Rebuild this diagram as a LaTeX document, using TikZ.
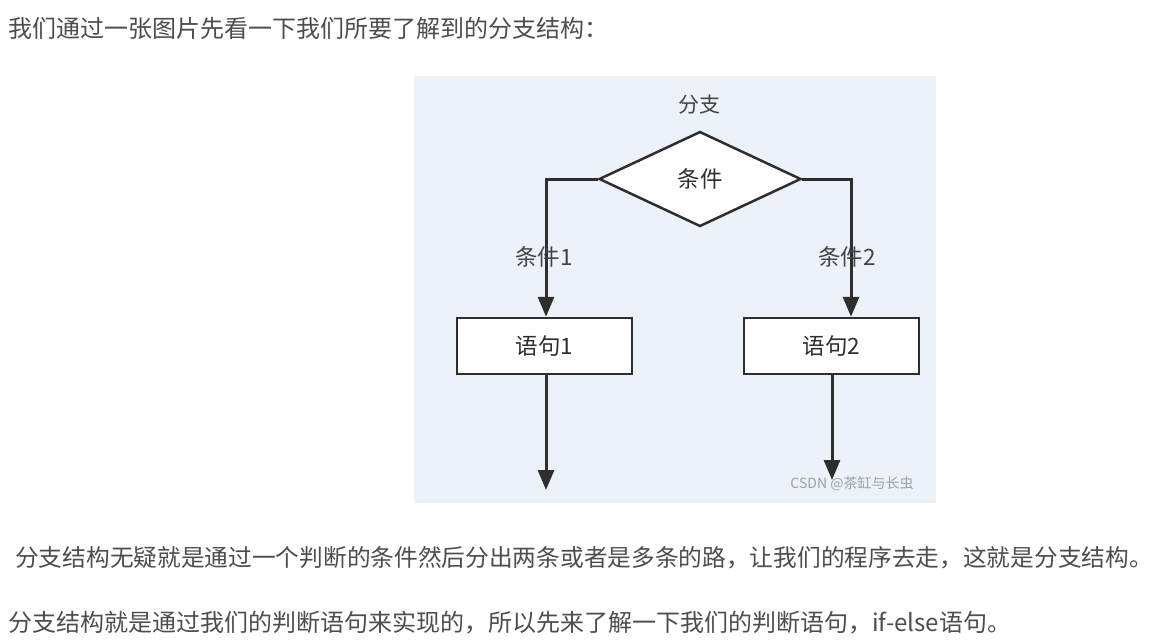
\documentclass[tikz,border=0pt]{standalone}
\usepackage{fontspec}
\setmainfont{Noto Sans CJK SC}
\usetikzlibrary{arrows.meta,shapes.geometric}

\definecolor{bodytext}{HTML}{4D4D4D}
\definecolor{panelbg}{HTML}{EDF1F8}
\definecolor{ink}{HTML}{2E2E2E}
\definecolor{marktext}{HTML}{9CA2AA}

\begin{document}
\begin{tikzpicture}[
  x=1pt, y=-1pt,
  para/.style={anchor=west, inner sep=0pt, text=bodytext, font=\fontsize{24}{24}\selectfont},
  decision/.style={diamond, draw=ink, line width=2.5pt, fill=white, aspect=2.1,
    minimum width=202pt, minimum height=95pt, inner sep=0pt, text=ink,
    font=\fontsize{22.5}{22.5}\selectfont},
  stmt/.style={rectangle, draw=ink, line width=2.5pt, fill=white,
    minimum width=175pt, minimum height=56pt, text=ink, font=\fontsize{22.5}{22.5}\selectfont},
  flow/.style={draw=ink, line width=3pt, -{Triangle[length=20pt,width=16pt]}},
  lbl/.style={inner sep=0pt, text=ink!90, font=\fontsize{22.5}{22.5}\selectfont}
]
\useasboundingbox (0,0) rectangle (1155,643);
\fill[white] (0,0) rectangle (1155,643);
\fill[panelbg] (414,76) rectangle (936,503);

% text around the picture
\node[para] (intro) at (8,28) {我们通过一张图片先看一下我们所要了解到的分支结构：};
\node[para, font=\fontsize{23.7}{23.7}\selectfont] (desc) at (15,558) {分支结构无疑就是通过一个判断的条件然后分出两条或者是多条的路，让我们的程序去走，这就是分支结构。};
\node[para] (next) at (8,623) {分支结构就是通过我们的判断语句来实现的，所以先来了解一下我们的判断语句，if-else语句。};

% flow chart
\node[lbl, font=\fontsize{21}{21}\selectfont] (title) at (699,105) {分支};
\node[decision] (cond) at (700,179) {条件};
\node[stmt] (s1) at (544.5,346) {语句1};
\node[stmt] (s2) at (831.5,346) {语句2};
\coordinate (end1) at (546,490);
\coordinate (end2) at (832,480);

\draw[flow] (cond.west) -| ([xshift=1.5pt]s1.north);
\draw[flow] (cond.east) -| ([xshift=19.5pt]s2.north);
\draw[flow] ([xshift=1.5pt]s1.south) -- (end1);
\draw[flow] ([xshift=0.5pt]s2.south) -- (end2);

\node[lbl] (c1) at (544,257) {条件1};
\node[lbl] (c2) at (847,257) {条件2};

\node[text=marktext, inner sep=0pt, font=\fontsize{14}{14}\selectfont] (mark) at (852,484) {CSDN @茶缸与长虫};
\end{tikzpicture}
\end{document}
